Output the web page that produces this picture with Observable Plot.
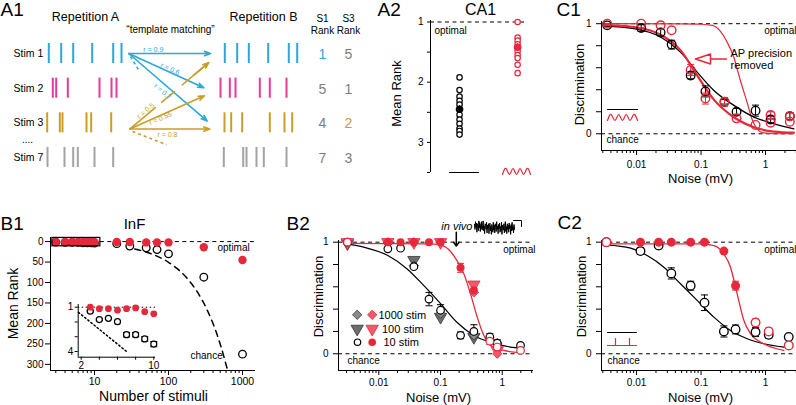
<!DOCTYPE html>
<html>
<head>
<meta charset="utf-8">
<script src="https://cdn.jsdelivr.net/npm/d3@7"></script>
<script src="https://cdn.jsdelivr.net/npm/@observablehq/plot@0.6"></script>
<style>
html,body{margin:0;padding:0;background:#fff;}
#fig{position:relative;width:796px;height:405px;overflow:hidden;background:#fff;}
#fig svg{position:absolute;overflow:visible;}
</style>
</head>
<body>
<div id="fig"></div>
<script>
// ================= DATA =================
// A1 – spike rasters (spike times, ms) and template-matching results
const stimNames = ["Stim 1", "Stim 2", "Stim 3", "Stim 7"];
const spikesRepA = [[3.3,15.7,27.7,46.7,67.7,76],[7.3,10.7,22.3,54,66,71],[1.7,14.3,17,41,45.7,65.7],[2,19,27.7,32.3,49,67.7]];
const spikesRepB = [[6.3,18.7,30.3,49.7,70.3,78.7],[2,11.3,17,41.3,51.3,68],[6,12.7,23.7,51.3,66,73.7],[5.3,24.7,28,38,45.3,68]];
const rankS1 = [1, 5, 4, 7];
const rankS3 = [5, 1, 2, 3];
const matchS1 = ["0.9", "0.6", "0.7"];
const matchS3 = ["0.5", "0.55", "0.8"];

// A2 – CA1 mean rank
const ca1Control = [1.92, 2.13, 2.24, 2.31, 2.37, 2.54, 2.62, 2.69, 2.77, 2.81, 2.87];
const ca1ControlMean = [2.45], ca1ControlSem = [0.06];
const ca1Noise = [1.0, 1.26, 1.31, 1.37, 1.48, 1.55, 1.6, 1.71, 1.85];
const ca1NoiseMean = [1.42], ca1NoiseSem = [0.06];

// B1 – InF mean rank vs number of stimuli
const infN = [3, 4, 5, 6, 7, 8, 9, 10, 20, 30, 50, 70, 100, 300, 1000];
const infRankOpt = [1.0, 1.1, 1.1, 1.2, 1.1, 1.05, 1.3, 1.45, 1, 1, 2, 2, 2, 14, 45];
const infRankCtl = [1.27, 1.84, 1.75, 1.98, 2.86, 2.86, 3.15, 3.5, 5, 11, 15, 19.5, 30, 87, 275];
const infRankCtlErr = [0.05, 0.05, 0.05, 0.05, 0.15, 0.15, 0.15, 0.18, 0, 0, 0, 0, 0, 0, 0];
const chanceN = [35, 45, 60, 80, 100, 130, 170, 220, 280, 350, 430, 520, 620];
const chanceRank = [18, 23, 30.5, 40.5, 50.5, 65.5, 85.5, 110.5, 140.5, 175.5, 215.5, 260.5, 310.5];
const insetChanceN = [1.7, 7.0];
const insetChanceRank = [1.35, 4.0];

// B2 – discrimination vs noise (10 / 100 / 1000 stimuli)
const b2Noise10 = [0.0031, 0.014, 0.0225, 0.037, 0.065, 0.1, 0.211, 0.347, 0.63, 0.83, 1.98];
const b2Ctl10 = [1.0, 0.94, 0.946, 0.78, 0.49, 0.39, 0.165, 0.2, 0.15, 0.095, 0.075];
const b2Ctl10Err = [0, 0, 0, 0, 0.06, 0.05, 0.03, 0.06, 0.03, 0.03, 0];
const b2Opt10 = [1.0, 1.0, 1.0, 1.0, 1.0, 1.0, 0.77, 0.57, 0.113, 0.06, 0.03];
const b2Opt10Err = [0, 0, 0, 0, 0, 0, 0.04, 0, 0.03, 0, 0];
const b2Opt10Filled = [false, true, true, true, true, true, true, true, false, false, false];
const b2NoiseCtl100 = [0.0031, 0.037, 0.1, 0.347];
const b2Ctl100 = [0.99, 0.84, 0.33, 0.15];
const b2NoiseOpt100 = [0.0031, 0.014, 0.037, 0.1, 0.347, 0.83];
const b2Opt100 = [1.0, 1.0, 1.0, 1.0, 0.62, 0.03];
const b2NoiseCtl1000 = [0.014, 0.037, 0.1, 0.347, 0.83];
const b2Ctl1000 = [0.99, 0.79, 0.36, 0.165, 0.095];
const b2NoiseOpt1000 = [0.014, 0.037, 0.347, 0.83];
const b2Opt1000 = [1.0, 1.0, 0.55, 0.0];
const b2FitCtlX = [0.0031, 0.0057, 0.014, 0.0288, 0.0537, 0.1, 0.186, 0.347, 0.646, 1.36, 2.0];
const b2FitCtlY = [0.985, 0.955, 0.88, 0.76, 0.61, 0.45, 0.28, 0.164, 0.104, 0.06, 0.05];
const b2FitOptX = [0.0031, 0.069, 0.113, 0.164, 0.239, 0.306, 0.393, 0.504, 0.646, 1.06, 1.98];
const b2FitOptY = [0.99, 0.985, 0.965, 0.88, 0.716, 0.537, 0.328, 0.164, 0.075, 0.03, 0.01];
const inVivoNoise = [0.18];
const inVivoTrace = [0.5,-0.2,0.9,0.1,0.7,-0.6,0.6,0.3,-0.4,1.0,0.0,0.8,-0.5,0.5,-0.1,0.9,-0.3,0.4,1.0,-0.4,0.3,-0.8,0.6,0.4,-0.2,0.8,-0.7,0.4,-0.1,0.6,-0.8,0.2,0.7,-0.4,0.3,-0.9,0.5,0.0,-0.6,0.8,-0.3,0.4,-0.7,0.6,0.1,-0.5,0.9,-0.2,0.3,-0.8,0.5,-0.1,0.7,-0.6,0.2,-0.4,0.8,-0.9,0.4,0.1,-0.3,0.6,-0.7,0.3,0.9,-0.5,0.2,-0.8,0.6,-0.2,0.4,-0.6,0.7,-0.1,0.3,-0.9,0.5,-0.4,0.8,-0.3,0.2,-0.7,0.5,-0.2];

// C1 – AP precision removed
const c1Noise = [0.0035, 0.0118, 0.0236, 0.035, 0.069, 0.117, 0.231, 0.355, 0.70, 1.2, 2.38];
const c1Ctl = [0.985, 0.96, 0.92, 0.81, 0.53, 0.385, 0.29, 0.2, 0.21, 0.13, 0.16];
const c1CtlErr = [0, 0.03, 0.03, 0.04, 0.03, 0.05, 0.02, 0.03, 0.05, 0.03, 0.03];
const c1Jit = [1.0, 1.0, 0.985, 0.94, 0.58, 0.32, 0.29, 0.14, 0.08, 0.17, 0.16];
const c1JitErr = [0, 0, 0, 0, 0.05, 0.05, 0.04, 0, 0, 0.03, 0.03];
const c1JitNoise2 = [1.2, 2.38];
const c1Jit2 = [0.1, 0.11];
const c1FitX = [0.0031, 0.0091, 0.0236, 0.048, 0.087, 0.158, 0.323, 0.66, 1.35, 2.75];
const c1FitCtlY = [0.979, 0.955, 0.879, 0.742, 0.56, 0.394, 0.258, 0.152, 0.091, 0.045];
const c1FitJitY = [0.99, 0.97, 0.90, 0.76, 0.53, 0.31, 0.15, 0.06, 0.02, 0.01];
const c1FitPrecX = [0.0031, 0.05, 0.1, 0.15, 0.2, 0.25, 0.32, 0.4, 0.52, 0.62, 0.75, 0.9, 1.35, 2.75];
const c1FitPrecY = [1.0, 0.998, 0.995, 0.985, 0.93, 0.84, 0.7, 0.5, 0.28, 0.13, 0.04, 0.01, 0.0, 0.0];

// C2 – spike timing only
const c2Noise = [0.0034, 0.0115, 0.022, 0.0346, 0.069, 0.113, 0.226, 0.343, 0.70, 1.12, 2.29];
const c2Ctl = [1.0, 0.92, 0.97, 0.72, 0.61, 0.457, 0.2, 0.218, 0.194, 0.17, 0.15];
const c2CtlErr = [0, 0.03, 0, 0.05, 0.04, 0.07, 0.05, 0.04, 0.04, 0.03, 0];
const c2Opt = [1.0, 1.0, 1.0, 1.0, 1.0, 1.0, 0.92, 0.61, 0.28, 0.2, 0.075];
const c2OptErr = [0, 0, 0, 0, 0, 0, 0, 0.04, 0.03, 0.03, 0];
const c2OptFilled = [false, true, true, true, true, true, true, true, false, false, false];
const c2FitCtlX = [0.0034, 0.0081, 0.0146, 0.0265, 0.048, 0.087, 0.158, 0.286, 0.52, 0.94, 1.92];
const c2FitCtlY = [0.976, 0.946, 0.88, 0.776, 0.627, 0.478, 0.328, 0.209, 0.134, 0.09, 0.06];
const c2FitOptX = [0.0034, 0.1, 0.158, 0.226, 0.286, 0.363, 0.46, 0.585, 0.94, 1.92];
const c2FitOptY = [0.985, 0.985, 0.97, 0.895, 0.776, 0.537, 0.3, 0.18, 0.09, 0.03];

// axis ticks
const logMajor = [0.01, 0.1, 1];
const logMinor = [0.003,0.004,0.005,0.006,0.007,0.008,0.009,0.02,0.03,0.04,0.05,0.06,0.07,0.08,0.09,0.2,0.3,0.4,0.5,0.6,0.7,0.8,0.9,2,3];
const discTicks = [0, 0.2, 0.4, 0.6, 0.8, 1];
const rankTicksA2 = [1, 1.5, 2, 2.5, 3, 3.5];
const rankTicksB1 = [0, 50, 100, 150, 200, 250, 300];
const stimMajor = [10, 100, 1000];
const stimMinor = [3,4,5,6,7,8,9,20,30,40,50,60,70,80,90,200,300,400,500,600,700,800,900];
const insetXTicks = [2, 4, 6, 8, 10];
const insetYTicks = [1, 2, 3, 4];

// ================= RENDERING =================
const FONT = '"Liberation Sans", Arial, Helvetica, sans-serif';
const RED = "#e6283b", RED_LIGHT = "#ef5b6b";
const CYAN = "#2ba8d8", MAGENTA = "#e5399b", GOLD = "#c99e27", GREY = "#a3a3a3", DIGIT_GREY = "#7d7d7d";
const rowColors = [CYAN, MAGENTA, GOLD, GREY];
const fig = document.getElementById("fig");
const style = {fontFamily: FONT, fontSize: "10px", background: "transparent", overflow: "visible", color: "#000"};
function put(svg, left, top) { svg.style.left = left + "px"; svg.style.top = top + "px"; fig.appendChild(svg); }
function pts(xs, ys, es) { return xs.map((x, i) => ({x, y: ys[i], e: es ? es[i] : 0, i})); }
const capSym = {draw(c, size) { const w = Math.sqrt(size) / 2; c.moveTo(-w, 0); c.lineTo(w, 0); }};
const triDown = {draw(c, size) { const y = -Math.sqrt(size / (Math.sqrt(3) * 3)); c.moveTo(0, -y * 2); c.lineTo(-Math.sqrt(3) * y, y); c.lineTo(Math.sqrt(3) * y, y); c.closePath(); }};
function errorBars(data, color) {
  const d = data.filter(p => p.e > 0);
  return [
    Plot.ruleX(d, {x: "x", y1: p => p.y - p.e, y2: p => p.y + p.e, stroke: color, strokeWidth: 1}),
    Plot.dot(d.flatMap(p => [{x: p.x, y: p.y - p.e}, {x: p.x, y: p.y + p.e}]), {x: "x", y: "y", symbol: capSym, r: 4, stroke: color, fill: "none", strokeWidth: 1})
  ];
}
function fit(xs, ys, color, w) { return Plot.line(pts(xs, ys), {x: "x", y: "y", curve: "monotone-x", stroke: color, strokeWidth: w}); }
function noiseFrame(xmin, ymin, pad) {
  return [
    Plot.ruleY([0, 1], {strokeDasharray: "4,3.5", strokeWidth: 1}),
    Plot.axisX({ticks: logMinor, tickSize: 3, tickFormat: () => "", label: null}),
    Plot.axisX({ticks: logMajor, tickSize: 5, tickPadding: pad, tickFormat: d => String(d), label: null}),
    Plot.axisY({ticks: discTicks, tickSize: 5, tickPadding: 5, tickFormat: d => (d === 0 || d === 1) ? String(d) : "", label: null}),
    Plot.ruleX([xmin], {strokeWidth: 1}),
    Plot.ruleY([ymin], {strokeWidth: 1})
  ];
}

// ---------- A1 ----------
const REP_A_X = 45, REP_B_X = 218, ROW_PX = 34.67;
const a1Spikes = [];
spikesRepA.forEach((ts, row) => ts.forEach(t => a1Spikes.push({x: REP_A_X + t, row})));
spikesRepB.forEach((ts, row) => ts.forEach(t => a1Spikes.push({x: REP_B_X + t, row})));
const cyanGeom = [{x1: 128.3, y1: 0, x2: 210, y2: 0}, {x1: 128.3, y1: 0, x2: 203.3, y2: 0.99}, {x1: 128.3, y1: 0, x2: 206.7, y2: 1.95}];
const goldGeom = [{x1: 129.3, y1: 2.18, x2: 208.3, y2: 0.26}, {x1: 129.3, y1: 2.18, x2: 204, y2: 1.22}, {x1: 129.3, y1: 2.18, x2: 209.3, y2: 2.18}];
const cyanLab = [{f: 0.30, dy: -4}, {f: 0.55, dy: -3.5}, {f: 0.43, dy: 9}];
const goldLab = [{f: 0.2, dy: -5}, {f: 0.41, dy: 3}, {f: 0.47, dy: 6}];
const cyanArrows = matchS1.map((r, i) => ({...cyanGeom[i], r, c: CYAN, lab: cyanLab[i]}));
const goldArrows = matchS3.map((r, i) => ({...goldGeom[i], r, c: GOLD, lab: goldLab[i]}));
const rLabels = [...cyanArrows, ...goldArrows].map(a => ({
  x: a.x1 + a.lab.f * (a.x2 - a.x1),
  y: a.y1 + a.lab.f * (a.y2 - a.y1) + a.lab.dy / ROW_PX,
  rot: Math.atan2((a.y2 - a.y1) * ROW_PX, a.x2 - a.x1) * 180 / Math.PI,
  t: "r = " + a.r, c: a.c
}));
const a1 = Plot.plot({
  width: 380, height: 180, margin: 0, style,
  x: {domain: [0, 380], range: [0, 380], axis: null},
  y: {domain: [0, 3], range: [53, 157], axis: null},
  color: {type: "identity"},
  marks: [
    Plot.ruleX(a1Spikes, {x: "x", y1: d => d.row - 0.29, y2: d => d.row + 0.29, stroke: d => rowColors[d.row], strokeWidth: 2}),
    Plot.arrow([cyanArrows[0], cyanArrows[1], cyanArrows[2], goldArrows[1], goldArrows[2]], {x1: "x1", y1: "y1", x2: "x2", y2: "y2", stroke: "c", strokeWidth: 1.6, headLength: 6, headAngle: 40}),
    Plot.link([goldArrows[0]], {x1: "x1", y1: "y1", x2: "x2", y2: "y2", stroke: "c", strokeWidth: 1.6, strokeDasharray: "34,7,18,9"}),
    Plot.arrow([goldArrows[0]], {x1: "x1", y1: "y1", x2: "x2", y2: "y2", stroke: "c", strokeWidth: 1.6, headLength: 6, headAngle: 40, insetStart: 84}),
    Plot.link([{x1: 130, y1: 0.09, x2: 139.3, y2: 0.53, c: CYAN}, {x1: 132, y1: 2.25, x2: 166, y2: 2.63, c: GOLD}], {x1: "x1", y1: "y1", x2: "x2", y2: "y2", stroke: "c", strokeWidth: 1.6, strokeDasharray: "3,3"}),
    ...rLabels.map(L => Plot.text([L], {x: "x", y: "y", text: "t", fill: "c", rotate: L.rot, fontSize: 7})),
    Plot.text(stimNames, {x: () => 13, y: (d, i) => i, text: d => d, textAnchor: "start", fontSize: 10.5}),
    Plot.text(rankS1, {x: () => 322, y: (d, i) => i + 0.03, text: d => String(d), fill: (d, i) => i === 0 ? CYAN : DIGIT_GREY, fontSize: 14}),
    Plot.text(rankS3, {x: () => 348, y: (d, i) => i + 0.03, text: d => String(d), fill: (d, i) => i === 2 ? GOLD : DIGIT_GREY, fontSize: 14})
  ]
});
put(a1, 0, 0);

// ---------- A2 ----------
const a2 = Plot.plot({
  width: 160, height: 180, marginLeft: 50, marginRight: 13, marginTop: 20, marginBottom: 8, style,
  x: {domain: [0.5, 2.17], axis: null},
  y: {domain: [0.975, 3.5], reverse: true, axis: null},
  marks: [
    Plot.ruleY([1], {strokeDasharray: "4,3.5"}),
    Plot.axisY({ticks: rankTicksA2, tickSize: 3, tickPadding: 4, tickFormat: d => Number.isInteger(d) ? String(d) : "", label: null}),
    Plot.ruleX([0.5]),
    Plot.dot(ca1Control, {x: () => 1, y: d => d, r: 2.7, stroke: "black", strokeWidth: 1.2, fill: "white"}),
    Plot.ruleX(ca1ControlMean, {x: () => 1, y1: (d, i) => d - ca1ControlSem[i], y2: (d, i) => d + ca1ControlSem[i], stroke: "black"}),
    Plot.dot(ca1ControlMean, {x: () => 1, y: d => d, r: 3.8, fill: "black"}),
    Plot.dot(ca1Noise, {x: () => 2, y: d => d, r: 2.7, stroke: RED, strokeWidth: 1.2, fill: "white"}),
    Plot.ruleX(ca1NoiseMean, {x: () => 2, y1: (d, i) => d - ca1NoiseSem[i], y2: (d, i) => d + ca1NoiseSem[i], stroke: RED}),
    Plot.dot(ca1NoiseMean, {x: () => 2, y: d => d, r: 3.8, fill: RED})
  ]
});
put(a2, 380, 0);

// ---------- B1 ----------
const infOpt = pts(infN, infRankOpt);
const infCtl = pts(infN, infRankCtl, infRankCtlErr);
const b1 = Plot.plot({
  width: 270, height: 205, marginLeft: 50, marginRight: 15, marginTop: 37, marginBottom: 35, style,
  x: {type: "log", domain: [2.544, 1499], axis: null},
  y: {domain: [-10, 315], reverse: true, axis: null},
  marks: [
    Plot.ruleY([0], {x1: 12, x2: 1499, strokeDasharray: "4,3.5"}),
    Plot.line(pts(chanceN, chanceRank), {x: "x", y: "y", curve: "catmull-rom", strokeDasharray: "6,5", stroke: "black"}),
    Plot.axisX({ticks: stimMinor, tickSize: 3, tickFormat: () => "", label: null}),
    Plot.axisX({ticks: stimMajor, tickSize: 5, tickPadding: 2, tickFormat: d => String(d), label: null, fontSize: 10.5}),
    Plot.axisY({ticks: rankTicksB1, tickSize: 5, tickPadding: 2, label: null}),
    Plot.ruleX([2.544]), Plot.ruleY([315]),
    Plot.dot(infCtl, {x: "x", y: "y", r: 3.8, stroke: "black", strokeWidth: 1.3, fill: "white"}),
    Plot.dot(infOpt, {x: "x", y: "y", r: 4.2, fill: RED}),
    Plot.rect([{x1: 2.7, x2: 12, y1: -9, y2: 11.5}], {x1: "x1", x2: "x2", y1: "y1", y2: "y2", fill: "none", stroke: "black", strokeWidth: 1.2})
  ]
});
put(b1, 0, 200);

const insetOpt = infOpt.filter(d => d.x <= 10);
const insetCtl = infCtl.filter(d => d.x <= 10);
const b1inset = Plot.plot({
  width: 105, height: 75, marginLeft: 17.7, marginRight: 10, marginTop: 9, marginBottom: 13.3, style,
  x: {domain: [1.67, 10.19], axis: null},
  y: {domain: [0.817, 4.386], reverse: true, axis: null},
  marks: [
    Plot.ruleY([1], {strokeDasharray: "1.5,2.5"}),
    Plot.line(pts(insetChanceN, insetChanceRank), {x: "x", y: "y", strokeDasharray: "1.5,2.5", stroke: "black"}),
    Plot.axisX({ticks: insetXTicks, tickSize: 3, tickPadding: 2, tickFormat: d => (d === 2 || d === 10) ? String(d) : "", label: null}),
    Plot.axisY({ticks: insetYTicks, tickSize: 3, tickPadding: 2, tickFormat: d => (d === 1 || d === 4) ? String(d) : "", label: null}),
    Plot.ruleX([1.67]), Plot.ruleY([4.386]),
    ...errorBars(insetCtl, "black"),
    Plot.dot(insetCtl, {x: "x", y: "y", r: 3, stroke: "black", strokeWidth: 1.2, fill: "white"}),
    Plot.dot(insetOpt, {x: "x", y: "y", r: 3.4, fill: RED})
  ]
});
put(b1inset, 60, 295);

// ---------- B2 ----------
const b2c10 = pts(b2Noise10, b2Ctl10, b2Ctl10Err);
const b2o10 = pts(b2Noise10, b2Opt10, b2Opt10Err);
const b2 = Plot.plot({
  width: 270, height: 205, marginLeft: 68, marginRight: 7, marginTop: 40, marginBottom: 35, style,
  x: {type: "log", domain: [0.00222, 3.21], axis: null},
  y: {domain: [-0.15, 1.015], axis: null},
  marks: [
    ...noiseFrame(0.00222, -0.15, 3),
    fit(b2FitCtlX, b2FitCtlY, "black", 1.2),
    fit(b2FitOptX, b2FitOptY, RED, 1.3),
    ...errorBars(b2c10, "black"),
    ...errorBars(b2o10, RED),
    Plot.dot(pts(b2NoiseCtl100, b2Ctl100), {x: "x", y: "y", symbol: triDown, r: 4.6, fill: "#6e6e6e", stroke: "#333", strokeWidth: 0.8}),
    Plot.dot(pts(b2NoiseOpt100, b2Opt100), {x: "x", y: "y", symbol: triDown, r: 4.6, fill: RED_LIGHT, stroke: RED, strokeWidth: 0.8}),
    Plot.dot(pts(b2NoiseCtl1000, b2Ctl1000), {x: "x", y: "y", symbol: "diamond2", r: 4.2, fill: "#8a8a8a", stroke: "#333", strokeWidth: 0.8}),
    Plot.dot(pts(b2NoiseOpt1000, b2Opt1000), {x: "x", y: "y", symbol: "diamond2", r: 4.2, fill: RED_LIGHT, stroke: RED, strokeWidth: 0.8}),
    Plot.dot(b2c10, {x: "x", y: "y", r: 3.8, stroke: "black", strokeWidth: 1.2, fill: "white"}),
    Plot.dot(b2o10.filter(d => b2Opt10Filled[d.i]), {x: "x", y: "y", r: 4, fill: RED}),
    Plot.dot(b2o10.filter(d => !b2Opt10Filled[d.i]), {x: "x", y: "y", r: 3.8, stroke: RED, strokeWidth: 1.2, fill: "white"}),
    Plot.arrow(inVivoNoise, {x1: d => d, x2: d => d, y1: () => 1.09, y2: () => 0.965, stroke: "black", strokeWidth: 1.5, headLength: 5, headAngle: 70})
  ]
});
put(b2, 270, 200);

const trace = Plot.plot({
  width: 40, height: 17, margin: 0, style,
  x: {domain: [0, inVivoTrace.length - 1], axis: null},
  y: {domain: [-1.2, 1.2], axis: null},
  marks: [Plot.line(inVivoTrace, {x: (d, i) => i, y: d => d, stroke: "black", strokeWidth: 1})]
});
put(trace, 474, 219);

// ---------- C1 ----------
const c1c = pts(c1Noise, c1Ctl, c1CtlErr);
const c1j = pts(c1Noise, c1Jit, c1JitErr);
const c1 = Plot.plot({
  width: 236, height: 195, marginLeft: 41, marginRight: 0, marginTop: 21, marginBottom: 45, style,
  x: {type: "log", domain: [0.00286, 3.02], axis: null},
  y: {domain: [-0.152, 1.02], axis: null},
  marks: [
    ...noiseFrame(0.00286, -0.152, 5),
    fit(c1FitPrecX, c1FitPrecY, RED, 1.2),
    fit(c1FitX, c1FitCtlY, "black", 1.3),
    fit(c1FitX, c1FitJitY, RED, 2.2),
    ...errorBars(c1c, "black"),
    ...errorBars(c1j, RED),
    Plot.dot(c1c, {x: "x", y: "y", r: 4.3, stroke: "black", strokeWidth: 1.3, fill: "none"}),
    Plot.dot(c1j, {x: "x", y: "y", r: 4.3, stroke: RED, strokeWidth: 1.4, fill: "none"}),
    Plot.dot(pts(c1JitNoise2, c1Jit2), {x: "x", y: "y", r: 4.3, stroke: RED, strokeWidth: 1.4, fill: "none"})
  ]
});
put(c1, 560, 0);

// ---------- C2 ----------
const c2c = pts(c2Noise, c2Ctl, c2CtlErr);
const c2o = pts(c2Noise, c2Opt, c2OptErr);
const c2 = Plot.plot({
  width: 236, height: 205, marginLeft: 41, marginRight: 0, marginTop: 40, marginBottom: 35, style,
  x: {type: "log", domain: [0.00286, 3.02], axis: null},
  y: {domain: [-0.15, 1.015], axis: null},
  marks: [
    ...noiseFrame(0.00286, -0.15, 3),
    fit(c2FitCtlX, c2FitCtlY, "black", 1.2),
    fit(c2FitOptX, c2FitOptY, RED, 1.3),
    ...errorBars(c2c, "black"),
    ...errorBars(c2o, RED),
    Plot.dot(c2c, {x: "x", y: "y", r: 4.3, stroke: "black", strokeWidth: 1.3, fill: "white"}),
    Plot.dot(c2o.filter(d => c2OptFilled[d.i]), {x: "x", y: "y", r: 4.5, fill: RED}),
    Plot.dot(c2o.filter(d => !c2OptFilled[d.i]), {x: "x", y: "y", r: 4.3, stroke: RED, strokeWidth: 1.4, fill: "white"})
  ]
});
put(c2, 560, 200);

// ---------- Overlay: titles, labels, legends, annotations ----------
const LABELS = [
  {t: "A1", x: 0, y: 9, s: 19, a: "start"}, {t: "A2", x: 377, y: 9, s: 19, a: "start"}, {t: "C1", x: 556, y: 9, s: 19, a: "start"},
  {t: "B1", x: 0, y: 223, s: 19, a: "start"}, {t: "B2", x: 286, y: 223, s: 19, a: "start"}, {t: "C2", x: 557, y: 222, s: 19, a: "start"},
  {t: "CA1", x: 480, y: 9, s: 16}, {t: "InF", x: 134, y: 224, s: 15},
  {t: "Repetition A", x: 85, y: 16, s: 12.5}, {t: "Repetition B", x: 263, y: 16, s: 12.5},
  {t: "S1", x: 322, y: 18, s: 10}, {t: "Rank", x: 322, y: 30, s: 10}, {t: "S3", x: 348, y: 18, s: 10}, {t: "Rank", x: 348, y: 30, s: 10},
  {t: "\u201ctemplate matching\u201d", x: 170, y: 29, s: 10}, {t: "....", x: 27, y: 139, s: 10},
  {t: "Mean Rank", x: 396, y: 93, s: 13, r: -90}, {t: "optimal", x: 434, y: 30, s: 10, a: "start"},
  {t: "Discrimination", x: 579, y: 84, s: 13, r: -90}, {t: "Noise (mV)", x: 700, y: 178, s: 13},
  {t: "optimal", x: 796, y: 30, s: 10, a: "end"}, {t: "chance", x: 606, y: 139, s: 10, a: "start"},
  {t: "AP precision", x: 730, y: 53, s: 11, a: "start"}, {t: "removed", x: 730, y: 65, s: 11, a: "start"},
  {t: "Mean Rank", x: 13, y: 303, s: 14, r: -90}, {t: "Number of stimuli", x: 153, y: 396, s: 14},
  {t: "optimal", x: 217, y: 247, s: 10, a: "start"}, {t: "chance", x: 190, y: 355, s: 10, a: "start"},
  {t: "Discrimination", x: 318, y: 296, s: 13, r: -90}, {t: "Noise (mV)", x: 438, y: 397, s: 13},
  {t: "optimal", x: 535, y: 249, s: 10, a: "end"}, {t: "chance", x: 347, y: 360, s: 10, a: "start"},
  {t: "in vivo", x: 472, y: 226, s: 11, a: "end", i: true},
  {t: "1000 stim", x: 378, y: 315, s: 11, a: "start"}, {t: "100 stim", x: 381.5, y: 328.5, s: 11, a: "start"}, {t: "10 stim", x: 383, y: 342, s: 11, a: "start"},
  {t: "Discrimination", x: 581, y: 296, s: 13, r: -90}, {t: "Noise (mV)", x: 700, y: 397, s: 13},
  {t: "optimal", x: 796, y: 249, s: 10, a: "end"}, {t: "chance", x: 607, y: 360, s: 10, a: "start"}
];
const squiggleA2 = [[502,174],[505.5,168],[509,174],[512.5,168],[516,174],[519.5,168],[523,174],[526.5,168],[530,174]];
const squiggleC1 = [[607,120],[610.7,114],[614.5,120],[618.2,114],[622,120],[625.7,114],[629.5,120],[633.2,114],[637,120]];
const ovl = Plot.plot({
  width: 796, height: 405, margin: 0, style,
  x: {domain: [0, 796], range: [0, 796], axis: null},
  y: {domain: [0, 405], range: [0, 405], axis: null},
  marks: [
    ...LABELS.map(L => Plot.text([L], {x: "x", y: "y", text: "t", fontSize: L.s, textAnchor: L.a || "middle", rotate: L.r || 0, fontStyle: L.i ? "italic" : "normal", fill: "black"})),
    Plot.line([[449,172],[478,172]], {x: d => d[0], y: d => d[1], stroke: "black", strokeWidth: 1.2}),
    Plot.line(squiggleA2, {x: d => d[0], y: d => d[1], stroke: RED, strokeWidth: 1.2, curve: "natural"}),
    Plot.line([[607,109],[637,109]], {x: d => d[0], y: d => d[1], stroke: "black", strokeWidth: 1.2}),
    Plot.line(squiggleC1, {x: d => d[0], y: d => d[1], stroke: RED, strokeWidth: 1.2, curve: "natural"}),
    Plot.line([[695,58.5],[710,53.5],[710,63.5],[695,58.5]], {x: d => d[0], y: d => d[1], stroke: RED, strokeWidth: 1.5, fill: "white"}),
    Plot.line([[710,58.5],[726,58.5]], {x: d => d[0], y: d => d[1], stroke: RED, strokeWidth: 1.5}),
    Plot.line([[607,332],[636,332]], {x: d => d[0], y: d => d[1], stroke: "black", strokeWidth: 1.2}),
    Plot.line([[607,345],[636,345]], {x: d => d[0], y: d => d[1], stroke: RED, strokeWidth: 1.2}),
    Plot.line([[615,345],[615,338]], {x: d => d[0], y: d => d[1], stroke: RED, strokeWidth: 1.2}),
    Plot.line([[629,345],[629,338]], {x: d => d[0], y: d => d[1], stroke: RED, strokeWidth: 1.2}),
    Plot.line([[513,220],[521,220],[521,226]], {x: d => d[0], y: d => d[1], stroke: "black", strokeWidth: 1}),
    Plot.dot([[356.7,314.3]], {x: d => d[0], y: d => d[1], symbol: "diamond2", r: 4.2, fill: "#8a8a8a", stroke: "#333", strokeWidth: 0.8}),
    Plot.dot([[371.7,314.3]], {x: d => d[0], y: d => d[1], symbol: "diamond2", r: 4.2, fill: RED_LIGHT, stroke: RED, strokeWidth: 0.8}),
    Plot.dot([[356.7,328.3]], {x: d => d[0], y: d => d[1], symbol: triDown, r: 4.6, fill: "#6e6e6e", stroke: "#333", strokeWidth: 0.8}),
    Plot.dot([[371.7,328.3]], {x: d => d[0], y: d => d[1], symbol: triDown, r: 4.6, fill: RED_LIGHT, stroke: RED, strokeWidth: 0.8}),
    Plot.dot([[357,341.7]], {x: d => d[0], y: d => d[1], r: 3.2, stroke: "black", strokeWidth: 1.2, fill: "white"}),
    Plot.dot([[371.7,341.7]], {x: d => d[0], y: d => d[1], r: 3.8, fill: RED})
  ]
});
put(ovl, 0, 0);
</script>
</body>
</html>
